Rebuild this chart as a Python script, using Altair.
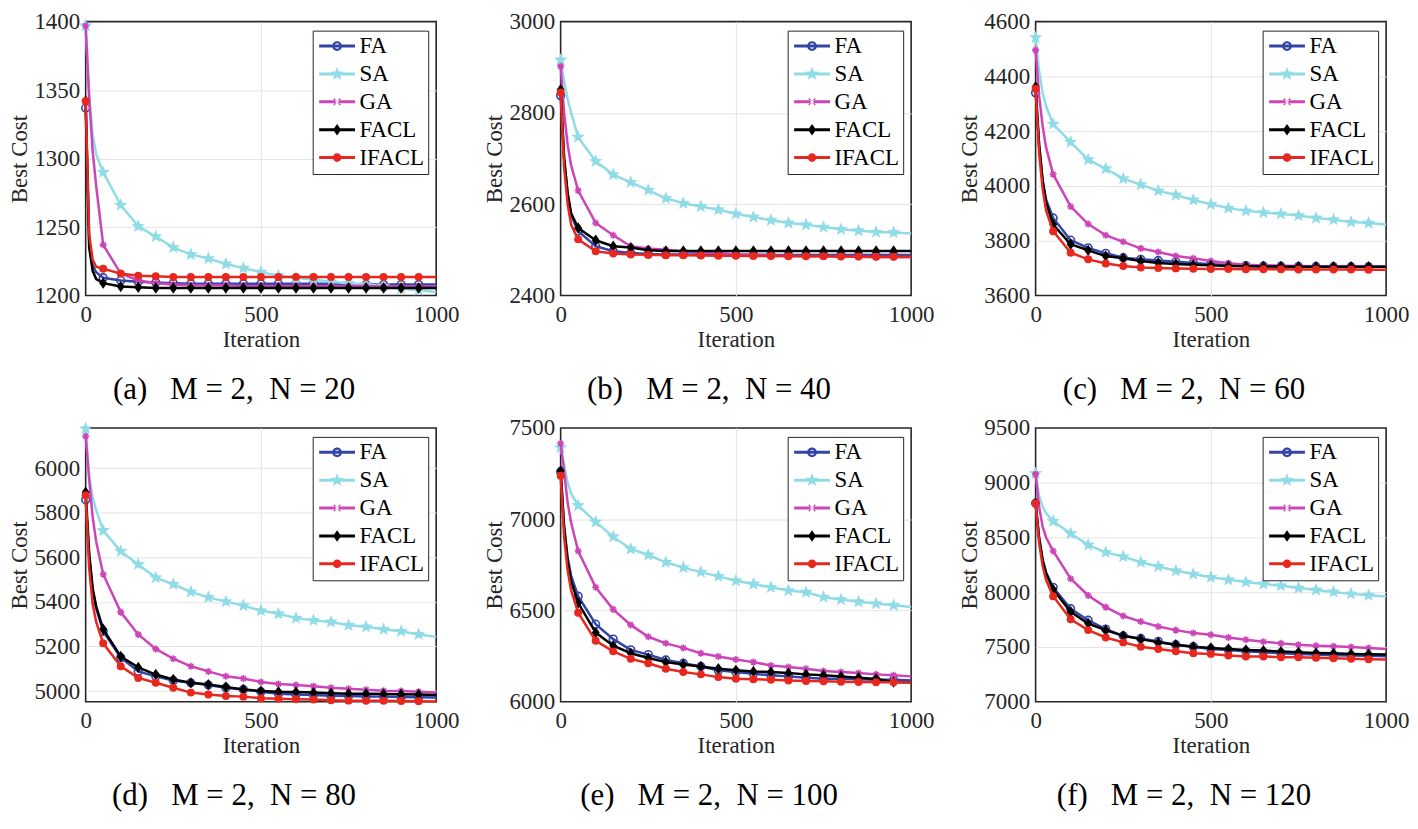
import math
import altair as alt
import pandas as pd

ALGS = ["FA", "SA", "GA", "FACL", "IFACL"]
COLORS = ["#3344a6", "#8fdbe6", "#cc44b8", "#000000", "#e8281e"]

ITERS = [0, 10, 20, 30] + list(range(50, 1001, 50))

# panel a: M=2, N=20
A_FA = [1337, 1240, 1222, 1217, 1213, 1211, 1210, 1209.5, 1209, 1208.5, 1208.5, 1208.5, 1208.5, 1208.5, 1208.5, 1208.5, 1208.5, 1208.5, 1208, 1208, 1208, 1208, 1208, 1208]
A_SA = [1397, 1345, 1318, 1303, 1290, 1266, 1250.5, 1243, 1235, 1230, 1227, 1223, 1220, 1217, 1214.5, 1213, 1211.5, 1210, 1209, 1208, 1207, 1205, 1204, 1202.5]
A_GA = [1397, 1345, 1305, 1280, 1237, 1216, 1211, 1209, 1208, 1207.5, 1207.5, 1207.5, 1207, 1207, 1207, 1207, 1207, 1207, 1207, 1207, 1206.5, 1206.5, 1206.5, 1206.5]
A_FACL = [1342, 1235, 1218, 1212, 1209, 1206.5, 1206, 1205.5, 1205.5, 1205.5, 1205.5, 1205.5, 1205.5, 1205.5, 1205.5, 1205.5, 1205.5, 1205.5, 1205.5, 1205.5, 1205.5, 1205.5, 1205.5, 1205.5]
A_IFACL = [1342, 1245, 1226, 1221, 1219.5, 1216, 1214.5, 1214, 1213.5, 1213.5, 1213.5, 1213.5, 1213.5, 1213.5, 1213.5, 1213.5, 1213.5, 1213.5, 1213.5, 1213.5, 1213.5, 1213.5, 1213.5, 1213.5]

# panel b: M=2, N=40
B_FA = [2838, 2700, 2620, 2575, 2541, 2508, 2497, 2493, 2491, 2490, 2490, 2490, 2490, 2489.5, 2489.5, 2489, 2489, 2489, 2489, 2489, 2489, 2488.5, 2488.5, 2488.5]
B_SA = [2916, 2870, 2830, 2800, 2747, 2694, 2665, 2648, 2631, 2613, 2602, 2595, 2588, 2579, 2572, 2565, 2559, 2555, 2550, 2545, 2542, 2539, 2538, 2536]
B_GA = [2902, 2800, 2730, 2685, 2630, 2559, 2532, 2508, 2503, 2500, 2497, 2495, 2493, 2490, 2489, 2487, 2487, 2486, 2486, 2485, 2485, 2484, 2484, 2484]
B_FACL = [2851, 2700, 2625, 2580, 2548, 2521, 2508, 2505, 2499, 2497.5, 2497.5, 2497.5, 2497.5, 2497.5, 2497.5, 2497.5, 2497.5, 2497.5, 2497.5, 2497.5, 2497.5, 2497.5, 2497.5, 2497.5]
B_IFACL = [2845, 2680, 2600, 2555, 2523, 2497, 2492, 2490, 2489, 2488, 2488, 2487.5, 2487, 2487, 2486.5, 2486.5, 2486, 2486, 2486, 2485.5, 2485.5, 2485, 2485, 2485]

# panel c: M=2, N=60
C_FA = [4340, 4150, 4020, 3950, 3883, 3802, 3774, 3754, 3738, 3732, 3728, 3723, 3719, 3714, 3711, 3709, 3708, 3707, 3706, 3706, 3705, 3705, 3705, 3705]
C_SA = [4542, 4420, 4340, 4290, 4226, 4160, 4096, 4063, 4027, 4005, 3982, 3967, 3949, 3933, 3919, 3909, 3903, 3898, 3892, 3883, 3877, 3868, 3865, 3859]
C_GA = [4496, 4330, 4220, 4140, 4043, 3925, 3861, 3820, 3796, 3772, 3759, 3744, 3736, 3726, 3718, 3712, 3710, 3709, 3708, 3707, 3707, 3706, 3706, 3705]
C_FACL = [4362, 4150, 4020, 3940, 3859, 3787, 3765, 3744, 3736, 3726, 3719, 3715, 3712, 3710, 3708, 3707, 3706, 3706, 3705, 3705, 3705, 3705, 3705, 3705]
C_IFACL = [4355, 4120, 3990, 3910, 3835, 3756, 3732, 3717, 3708, 3702, 3700, 3699, 3698, 3697, 3697, 3696, 3696, 3696, 3695, 3695, 3695, 3695, 3694, 3694]

# panel d: M=2, N=80
D_FA = [5858, 5600, 5450, 5370, 5268, 5150, 5088, 5066, 5047, 5037, 5027, 5015, 5007, 4997, 4988, 4985, 4982, 4979, 4978, 4976, 4975, 4973, 4972, 4971]
D_SA = [6177, 5960, 5870, 5810, 5720, 5627, 5568, 5509, 5479, 5445, 5420, 5401, 5383, 5361, 5347, 5327, 5317, 5310, 5295, 5288, 5277, 5268, 5254, 5243]
D_GA = [6143, 5950, 5780, 5670, 5524, 5354, 5254, 5189, 5145, 5111, 5088, 5066, 5056, 5041, 5032, 5027, 5022, 5015, 5010, 5006, 5001, 5000, 4997, 4993]
D_FACL = [5892, 5620, 5460, 5380, 5277, 5155, 5106, 5074, 5052, 5037, 5029, 5018, 5007, 5000, 4997, 4996, 4993, 4990, 4988, 4988, 4987, 4986, 4985, 4982]
D_IFACL = [5878, 5550, 5390, 5310, 5214, 5111, 5059, 5037, 5015, 4993, 4985, 4978, 4975, 4968, 4965, 4963, 4962, 4959, 4957, 4956, 4956, 4955, 4954, 4953]

# panel e: M=2, N=100
E_FA = [7260, 6960, 6790, 6690, 6578, 6425, 6343, 6284, 6258, 6229, 6211, 6193, 6172, 6163, 6154, 6145, 6139, 6132, 6126, 6126, 6123, 6121, 6121, 6117]
E_SA = [7392, 7300, 7200, 7140, 7075, 6985, 6904, 6837, 6804, 6764, 6735, 6710, 6687, 6663, 6645, 6627, 6609, 6600, 6573, 6560, 6548, 6538, 6529, 6519]
E_GA = [7415, 7260, 7090, 6980, 6826, 6627, 6506, 6421, 6356, 6320, 6295, 6266, 6248, 6231, 6217, 6199, 6190, 6181, 6168, 6163, 6157, 6150, 6145, 6139]
E_FACL = [7265, 6950, 6770, 6660, 6542, 6379, 6307, 6266, 6240, 6217, 6204, 6193, 6181, 6172, 6166, 6163, 6157, 6150, 6145, 6139, 6132, 6125, 6108, 6106]
E_IFACL = [7238, 6900, 6720, 6610, 6488, 6334, 6276, 6235, 6211, 6181, 6163, 6150, 6135, 6126, 6123, 6121, 6117, 6114, 6112, 6110, 6108, 6107, 6107, 6105]

# panel f: M=2, N=120
F_FA = [8813, 8500, 8300, 8180, 8045, 7849, 7744, 7663, 7602, 7578, 7551, 7521, 7503, 7482, 7473, 7461, 7452, 7443, 7437, 7431, 7425, 7422, 7419, 7416]
F_SA = [9084, 8880, 8780, 8720, 8648, 8536, 8431, 8364, 8325, 8274, 8235, 8196, 8166, 8136, 8114, 8093, 8075, 8060, 8039, 8021, 8003, 7985, 7973, 7961]
F_GA = [9078, 8780, 8600, 8500, 8377, 8123, 7970, 7864, 7783, 7732, 7687, 7654, 7627, 7611, 7587, 7566, 7548, 7533, 7521, 7512, 7506, 7500, 7491, 7482]
F_FACL = [8813, 8490, 8290, 8170, 8024, 7822, 7714, 7654, 7602, 7572, 7542, 7521, 7503, 7491, 7482, 7473, 7467, 7458, 7452, 7446, 7443, 7437, 7434, 7431]
F_IFACL = [8813, 8450, 8240, 8110, 7964, 7753, 7654, 7587, 7542, 7503, 7482, 7461, 7443, 7437, 7422, 7413, 7413, 7407, 7407, 7401, 7398, 7392, 7389, 7386]

NB = "\u00a0"


def cap(letter, n):
    return f"({letter}){NB * 3}M = 2,{NB * 2}N = {n}"


PANELS = [
    (cap("a", 20), [A_FA, A_SA, A_GA, A_FACL, A_IFACL], [1200, 1400], [1200, 1250, 1300, 1350, 1400]),
    (cap("b", 40), [B_FA, B_SA, B_GA, B_FACL, B_IFACL], [2400, 3000], [2400, 2600, 2800, 3000]),
    (cap("c", 60), [C_FA, C_SA, C_GA, C_FACL, C_IFACL], [3600, 4600], [3600, 3800, 4000, 4200, 4400, 4600]),
    (cap("d", 80), [D_FA, D_SA, D_GA, D_FACL, D_IFACL], [4952, 6180], [5000, 5200, 5400, 5600, 5800, 6000]),
    (cap("e", 100), [E_FA, E_SA, E_GA, E_FACL, E_IFACL], [6000, 7500], [6000, 6500, 7000, 7500]),
    (cap("f", 120), [F_FA, F_SA, F_GA, F_FACL, F_IFACL], [7000, 9500], [7000, 7500, 8000, 8500, 9000, 9500]),
]

W, H = 352, 275
FONT = "Liberation Serif"
AXC = "#262626"
GRIDC = "#e4e4e4"


def star_path(ro, ri, cx=0.0, cy=0.0):
    pts = []
    for k in range(10):
        r = ro if k % 2 == 0 else ri
        a = -math.pi / 2 + k * math.pi / 5
        pts.append(f"{cx + r * math.cos(a):.3f},{cy + r * math.sin(a):.3f}")
    return "M" + "L".join(pts) + "Z"


def circle_path(cx, r, sweep=1):
    return (f"M{cx + r:.3f},0A{r},{r} 0 1,{sweep} {cx - r:.3f},0"
            f"A{r},{r} 0 1,{sweep} {cx + r:.3f},0Z")


LINE = "M-1,-0.17L3,-0.17L3,0.17L-1,0.17Z"
X_SHAPE = "M0.68,0.42L1,0.1L1.32,0.42L1.42,0.32L1.1,0L1.42,-0.32L1.32,-0.42L1,-0.1L0.68,-0.42L0.58,-0.32L0.9,0L0.58,0.32Z"
LEG_SHAPES = [
    LINE + circle_path(1, 0.55, 1) + circle_path(1, 0.3, 0),
    LINE + star_path(0.8, 0.33, 1, 0),
    LINE + X_SHAPE,
    LINE + "M1,-0.65L1.45,0L1,0.65L0.55,0Z",
    LINE + circle_path(1, 0.48, 1),
]

MARK_STYLES = [
    dict(shape="circle", filled=False, size=60, strokeWidth=1.6),
    dict(shape=star_path(1, 0.42), filled=True, size=200, strokeWidth=0),
    dict(shape="M-1,0L1,0M0,-1L0,1M-0.7,-0.7L0.7,0.7M-0.7,0.7L0.7,-0.7", filled=False, size=50, strokeWidth=1.6),
    dict(shape="M0,-1L0.7,0L0,1L-0.7,0Z", filled=True, size=130, strokeWidth=0),
    dict(shape="circle", filled=True, size=64, strokeWidth=0),
]

AX_STYLE = dict(labelFont=FONT, titleFont=FONT, labelFontSize=23, titleFontSize=23,
                labelColor=AXC, titleColor=AXC, titleFontWeight="normal",
                grid=True, gridColor=GRIDC, gridWidth=1, labelFlush=False,
                domain=False, ticks=False, titlePadding=2)


def grid_opacity(lo, hi):
    return {"condition": {"test": f"datum.value <= {lo} || datum.value >= {hi}", "value": 0}, "value": 1}


def make_panel(caption, series, dom, ticks):
    rows = []
    for alg, vals in zip(ALGS, series):
        for it, v in zip(ITERS, vals):
            rows.append({"alg": alg, "it": it, "cost": v})
    df = pd.DataFrame(rows)
    base = alt.Chart(df)
    xenc = alt.X("it:Q", scale=alt.Scale(domain=[0, 1000], nice=False),
                 axis=alt.Axis(values=[0, 500, 1000], title="Iteration", format="d",
                               labelPadding=8, gridOpacity=grid_opacity(0, 1000), **AX_STYLE))
    yenc = alt.Y("cost:Q", scale=alt.Scale(domain=dom, nice=False, zero=False),
                 axis=alt.Axis(values=ticks, title="Best Cost", format="d",
                               labelPadding=6, gridOpacity=grid_opacity(dom[0], dom[1]), **AX_STYLE))
    layers = []
    for i, alg in enumerate(ALGS):
        layers.append(base.transform_filter(f"datum.alg == '{alg}'")
                      .mark_line(color=COLORS[i], strokeWidth=2.5)
                      .encode(x=xenc, y=yenc))
        st = MARK_STYLES[i]
        kw = dict(shape=st["shape"], filled=st["filled"], size=st["size"], opacity=1)
        if st["filled"]:
            kw["fill"] = COLORS[i]
        else:
            kw["stroke"] = COLORS[i]
            kw["strokeWidth"] = st["strokeWidth"]
        layers.append(base.transform_filter(
            f"datum.alg == '{alg}' && datum.it % 50 == 0 && datum.it < 1000")
            .mark_point(**kw).encode(x=xenc, y=yenc))
    leg = alt.Legend(orient="none", legendX=W - 124, legendY=9, title=None,
                     labelFont=FONT, labelFontSize=23, labelColor="black",
                     symbolSize=324, symbolStrokeWidth=0, symbolOpacity=1,
                     labelOffset=20, rowPadding=4, padding=4,
                     strokeColor=AXC, fillColor="white", cornerRadius=0)
    legend_layer = (base.transform_filter("false")
                    .mark_point(filled=True, size=324, opacity=1)
                    .encode(color=alt.Color("alg:N", scale=alt.Scale(domain=ALGS, range=COLORS), legend=leg),
                            shape=alt.Shape("alg:N", scale=alt.Scale(domain=ALGS, range=LEG_SHAPES), legend=leg)))
    layers.append(legend_layer)
    return alt.layer(*layers).properties(
        width=W, height=H,
        title=alt.TitleParams(text=caption, orient="bottom", anchor="middle", frame="bounds",
                              font=FONT, fontSize=31, fontWeight="normal",
                              color="black", offset=24))


charts = [make_panel(*p) for p in PANELS]
row1 = alt.hconcat(*charts[:3], spacing=23).resolve_scale(color="independent", shape="independent")
row2 = alt.hconcat(*charts[3:], spacing=23).resolve_scale(color="independent", shape="independent")
chart = (alt.vconcat(row1, row2, spacing=10)
         .resolve_scale(color="independent", shape="independent")
         .properties(padding={"left": 0, "top": 0, "right": 0, "bottom": 0}, background="white")
         .configure(font=FONT)
         .configure_view(stroke=AXC, strokeWidth=1.6)
         .configure_axis(**AX_STYLE))

chart.save("out.html", embed_options={"renderer": "svg", "actions": False})
